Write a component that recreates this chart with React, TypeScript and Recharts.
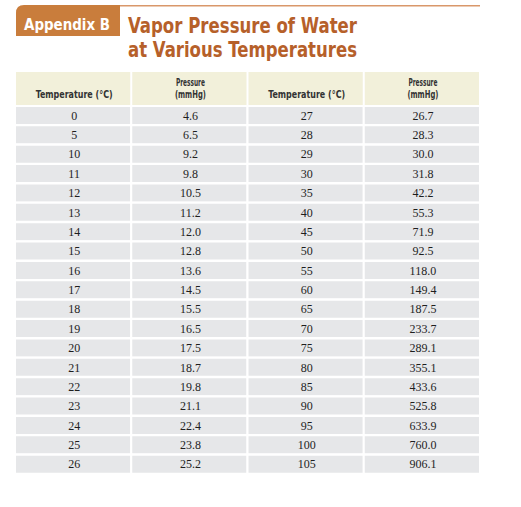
import { BarChart, Bar, XAxis, YAxis, LabelList, Customized } from "recharts";

const lowTemps = [0, 5, 10, 11, 12, 13, 14, 15, 16, 17, 18, 19, 20, 21, 22, 23, 24, 25, 26];
const lowPressures = [4.6, 6.5, 9.2, 9.8, 10.5, 11.2, 12.0, 12.8, 13.6, 14.5, 15.5, 16.5, 17.5, 18.7, 19.8, 21.1, 22.4, 23.8, 25.2];
const highTemps = [27, 28, 29, 30, 35, 40, 45, 50, 55, 60, 65, 70, 75, 80, 85, 90, 95, 100, 105];
const highPressures = [26.7, 28.3, 30.0, 31.8, 42.2, 55.3, 71.9, 92.5, 118.0, 149.4, 187.5, 233.7, 289.1, 355.1, 433.6, 525.8, 633.9, 760.0, 906.1];
const headerLabels = [["Temperature (°C)"], ["Pressure", "(mmHg)"], ["Temperature (°C)"], ["Pressure", "(mmHg)"]];
const columnTicks = [0.5, 1.5, 2.5, 3.5];

const rows = lowTemps.map((t, i) => ({
  row: i,
  t1: t,
  p1: lowPressures[i],
  t2: highTemps[i],
  p2: highPressures[i],
  span: 1,
}));

const W = 521;
const H = 507;
const margin = { top: 72, right: 41, bottom: 33, left: 15 };
const COL_W = (W - margin.left - margin.right) / 4;

const condensed = "'Liberation Sans Narrow', 'DejaVu Sans Condensed', sans-serif";
const serif = "'Liberation Serif', 'Times New Roman', serif";

function HeaderTick({ x, payload }: any) {
  const idx = columnTicks.indexOf(payload.value);
  const lines = headerLabels[idx] ?? [];
  return (
    <g>
      <rect x={x - COL_W / 2 + 1} y={72} width={COL_W - 2} height={33} fill="#f2f0da" />
      {lines.map((l, i) => (
        <text
          key={i}
          x={x + 1}
          y={98 - (lines.length - 1 - i) * 12}
          textAnchor="middle"
          fontFamily={condensed}
          fontWeight="bold"
          fontSize={11}
          fill="#333"
          textLength={l.startsWith("Temp") ? 77 : l === "Pressure" ? 29 : 31}
          lengthAdjust="spacingAndGlyphs"
        >
          {l}
        </text>
      ))}
    </g>
  );
}

function TitleBlock() {
  return (
    <g>
      <path d="M16 36 V13 Q16 5 24 5 H120 V36 Z" fill="#c97d3c" />
      <line x1={120} x2={480} y1={5.8} y2={5.8} stroke="#d9976a" strokeWidth={1.4} />
      <text x={24} y={30} fill="#fff" fontFamily={condensed} fontWeight="bold" fontSize={16}
        textLength={86} lengthAdjust="spacingAndGlyphs">
        Appendix B
      </text>
      <text x={128} y={33} fill="#b6602a" fontFamily={condensed} fontWeight="bold" fontSize={21}
        textLength={229} lengthAdjust="spacingAndGlyphs">
        Vapor Pressure of Water
      </text>
      <text x={128} y={57} fill="#b6602a" fontFamily={condensed} fontWeight="bold" fontSize={21}
        textLength={229} lengthAdjust="spacingAndGlyphs">
        at Various Temperatures
      </text>
    </g>
  );
}

const cellLabel = { position: "center" as const, fill: "#1e1e1e", fontSize: 12, fontFamily: serif, dx: 1 };
const fmt = (v: any) => Number(v).toFixed(1);

export default function App() {
  return (
    <div style={{ position: "absolute", left: 0, top: 0, background: "#fff" }}>
      <BarChart
        width={W}
        height={H}
        data={rows}
        layout="vertical"
        margin={margin}
        barCategoryGap={0}
      >
        <Customized component={TitleBlock} />
        <XAxis
          type="number"
          orientation="top"
          domain={[0, 4]}
          ticks={columnTicks}
          axisLine={false}
          tickLine={false}
          height={34}
          tick={<HeaderTick />}
          interval={0}
        />
        <YAxis type="category" dataKey="row" hide />
        <Bar dataKey="span" stackId="cells" fill="#e6e7e9" stroke="#fff" strokeWidth={2} isAnimationActive={false}>
          <LabelList dataKey="t1" {...cellLabel} />
        </Bar>
        <Bar dataKey="span" stackId="cells" fill="#e6e7e9" stroke="#fff" strokeWidth={2} isAnimationActive={false}>
          <LabelList dataKey="p1" formatter={fmt} {...cellLabel} />
        </Bar>
        <Bar dataKey="span" stackId="cells" fill="#e6e7e9" stroke="#fff" strokeWidth={2} isAnimationActive={false}>
          <LabelList dataKey="t2" {...cellLabel} />
        </Bar>
        <Bar dataKey="span" stackId="cells" fill="#e6e7e9" stroke="#fff" strokeWidth={2} isAnimationActive={false}>
          <LabelList dataKey="p2" formatter={fmt} {...cellLabel} />
        </Bar>
      </BarChart>
    </div>
  );
}
